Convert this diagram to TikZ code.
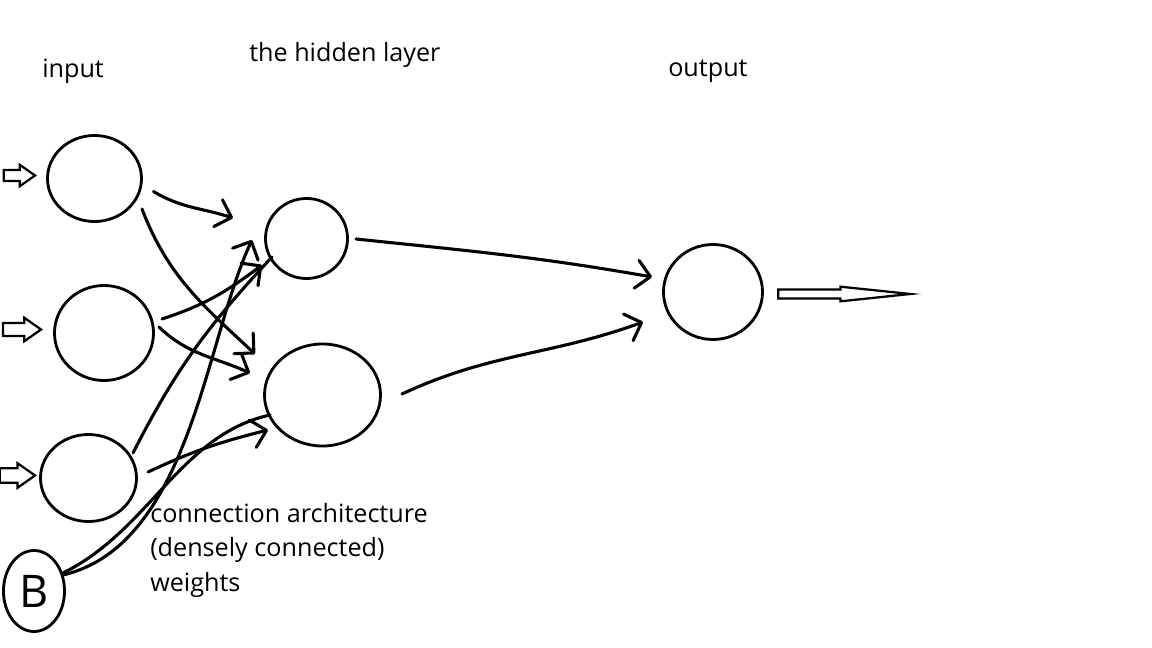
\documentclass[tikz,border=0pt]{standalone}
\usepackage{fontspec}
\setmainfont{Open Sans}
\usetikzlibrary{shapes.geometric,shapes.arrows,arrows.meta,calc}

\begin{document}
\begin{tikzpicture}[x=0.025cm,y=-0.025cm,
  font=\fontsize{17.9}{24.5}\selectfont,
  neuron/.style 2 args={ellipse,draw,line width=2pt,inner sep=0pt,
                minimum width=#1,minimum height=#2},
  inarrow/.style 2 args={single arrow,draw,fill=white,line width=1.6pt,inner xsep=0pt,
                inner ysep=#2,minimum height=#1,single arrow head extend=0.13cm,
                single arrow tip angle=70,anchor=tip},
  outarrow/.style={single arrow,draw,line width=1.6pt,inner xsep=0pt,inner ysep=0.085cm,
                minimum height=3.3cm,single arrow head extend=0.07cm,
                single arrow tip angle=12,anchor=tail},
  lbl/.style={inner sep=0pt,anchor=base west},
  conn/.style={line width=2.2pt,line cap=round,line join=round},
  arr/.style={conn,-{Straight Barb[length=10pt,width=20pt,round]}}]

  \path[use as bounding box,fill=white] (0,0) rectangle (1152,648);

  % layers
  \node[neuron={2.35cm}{2.15cm}] (in1) at (94.5,178.5) {};
  \node[neuron={2.475cm}{2.375cm}] (in2) at (104,333) {};
  \node[neuron={2.4cm}{2.175cm}] (in3) at (88.5,478) {};
  \node[neuron={1.525cm}{2.025cm}] (B) at (34,591) {\fontsize{32}{32}\selectfont B};
  \node[neuron={2.05cm}{2.0cm}] (h1) at (306.5,238.5) {};
  \node[neuron={2.9cm}{2.55cm}] (h2) at (322.5,395) {};
  \node[neuron={2.475cm}{2.375cm}] (out) at (713,292) {};

  % input / output arrows
  \node[inarrow={0.78cm}{0.11cm}] (a1) at (37,175.5) {};
  \node[inarrow={0.95cm}{0.135cm}] (a2) at (43,329.5) {};
  \node[inarrow={0.88cm}{0.15cm}] (a3) at (37,475.5) {};
  \node[outarrow] (oarr) at (777,294) {};

  % labels
  \node[lbl] (tin) at (42,78) {input};
  \node[lbl] (thid) at (249,62) {the hidden layer};
  \node[lbl] (tout) at (668,77) {output};
  \node[inner sep=0pt,anchor=north west,align=left] (tcon) at (150,503)
    {connection architecture\\(densely connected)\\weights};

  % weights
  \draw[arr] ($(in1)+(59,13)$) to[out=-31,in=162] ($(h1)+(-73.5,-20.5)$);
  \draw[arr] ($(in1)+(47.5,30.5)$) to[out=-69,in=137] ($(h2)+(-67.5,-41)$);
  \draw[arr] ($(in2)+(58,-14)$) to[out=18,in=217] ($(h1)+(-44.5,26.5)$);
  \draw[arr] ($(in2)+(55,-6)$) to[out=-44,in=156] ($(h2)+(-72.5,-22)$);
  \draw[conn] ($(in3)+(44.5,-25)$) to[out=63,in=227] ($(h1)+(-34.5,18.5)$);
  \draw[arr] ($(in3)+(59.5,-6)$) to[out=25,in=194] ($(h2)+(-54.5,35)$);
  \draw[arr] ($(B)+(29,-16)$) .. controls (190,545) and (205,340) .. ($(h1)+(-54.5,1.5)$);
  \draw[conn] ($(B)+(29,-18)$) .. controls (150,530) and (180,435) .. ($(h2)+(-52.5,20)$);
  \draw[arr] ($(h1)+(49.5,0.5)$) to[out=-6,in=170] ($(out)+(-61,-15)$);
  \draw[arr] ($(h2)+(79.5,-1)$) to[out=25,in=200] ($(out)+(-70,30)$);
\end{tikzpicture}
\end{document}
